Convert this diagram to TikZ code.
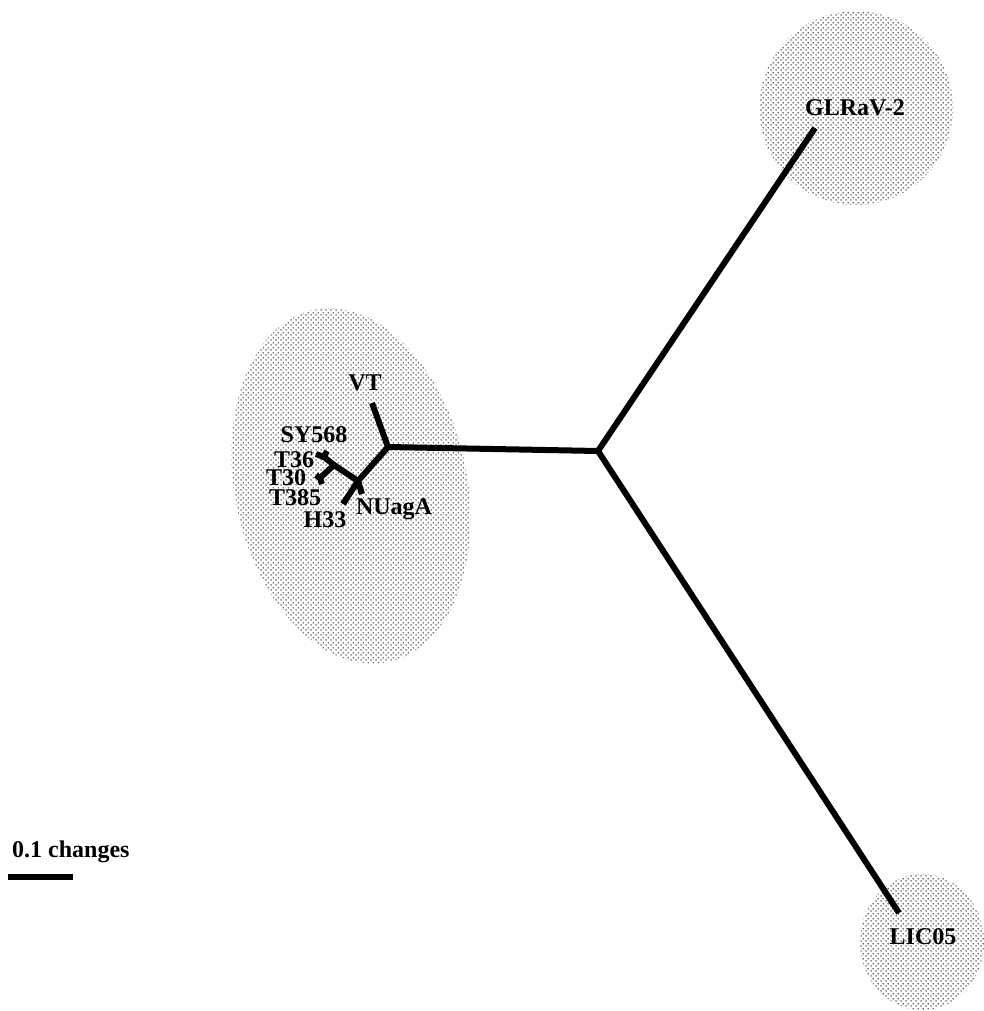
\documentclass[tikz,border=0pt]{standalone}
\usepackage{fontspec}
\setmainfont{Liberation Serif}
\usetikzlibrary{patterns.meta}
\tikzdeclarepattern{
  name=mydots,
  type=uncolored,
  bounding box={(0pt,0pt) and (5pt,5pt)},
  tile size={(5pt,5pt)},
  code={
    \fill (1.25pt,1.25pt) circle (0.9pt);
    \fill (3.75pt,3.75pt) circle (0.9pt);
  }
}
\tikzset{
  blob/.style={pattern={mydots}, pattern color=black!75, draw=none},
  branch/.style={line width=6pt, line cap=butt, line join=miter},
  lbl/.style={font=\fontsize{24}{26}\selectfont\bfseries, inner sep=0pt},
}
\begin{document}
\begin{tikzpicture}[x=1pt,y=-1pt]
\useasboundingbox (0,0) rectangle (983,1011);
% shaded groups
\fill[blob] (856,108) circle (97pt);
\fill[blob] (922,942) ellipse [x radius=62pt, y radius=68pt];
\fill[blob, rotate around={12:(351,486)}] (351,486) ellipse [x radius=116pt, y radius=180pt];
% internal nodes and tips
\coordinate (C) at (598,451);
\coordinate (A) at (388,447);
\coordinate (B) at (358,481);
\coordinate (D) at (334,465);
\coordinate (E) at (324,457);
\coordinate (F) at (320,478);
\coordinate (glr) at (815,128);
\coordinate (lic) at (899,913);
\coordinate (vt) at (372,403);
\coordinate (nua) at (362,494);
\coordinate (h33) at (343,504);
\coordinate (sy) at (327,451);
\coordinate (t36) at (316,454);
\coordinate (t30) at (316,475);
\coordinate (t385) at (322,484);
% branches
\draw[branch] (C) -- (glr);
\draw[branch] (C) -- (lic);
\draw[branch] (C) -- (A);
\draw[branch] (A) -- (vt);
\draw[branch] (A) -- (B);
\draw[branch] (B) -- (nua);
\draw[branch] (B) -- (h33);
\draw[branch] (B) -- (D);
\draw[branch] (D) -- (E);
\draw[branch] (E) -- (sy);
\draw[branch] (E) -- (t36);
\draw[branch] (D) -- (F);
\draw[branch] (F) -- (t30);
\draw[branch] (F) -- (t385);
% labels
\node[lbl] (Lglr) at (855,108) {GLRaV-2};
\node[lbl] (Llic) at (923,937) {LIC05};
\node[lbl] (Lvt) at (365,383) {VT};
\node[lbl] (Lsy) at (314,435) {SY568};
\node[lbl] (Lt36) at (294,460) {T36};
\node[lbl] (Lt30) at (286,478) {T30};
\node[lbl] (Lt385) at (295,498) {T385};
\node[lbl] (Lh33) at (325,520) {H33};
\node[lbl] (Lnua) at (394,509) {NUagA};
% scale bar
\node[lbl, anchor=west] (Lscale) at (12,852) {0.1 changes};
\coordinate (s1) at (8,877);
\coordinate (s2) at (73,877);
\draw[branch] (s1) -- (s2);
\end{tikzpicture}
\end{document}
